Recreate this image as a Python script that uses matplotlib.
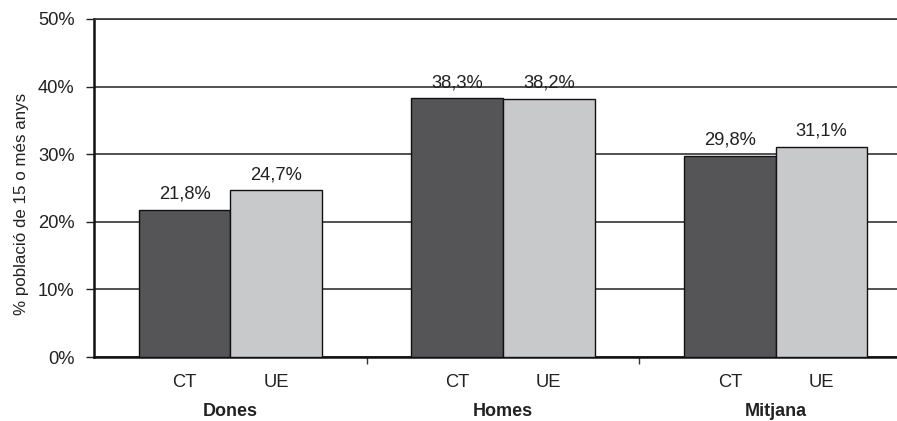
import matplotlib
matplotlib.use('Agg')
from matplotlib import pyplot as plt
import numpy as np

groups = ['Dones', 'Homes', 'Mitjana']
series = ['CT', 'UE']
ct = [21.8, 38.3, 29.8]
ue = [24.7, 38.2, 31.1]
yticks = [0, 10, 20, 30, 40, 50]

plt.rcParams['font.family'] = ['Liberation Sans', 'DejaVu Sans']

fig = plt.figure(figsize=(8.97, 4.21), dpi=100)
ax = fig.add_axes([94/897, 64/421, (912-94)/897, 338/421])

x = np.arange(len(groups))
w = 0.336
b1 = ax.bar(x - w/2, ct, w, color='#555558', edgecolor='#111111', linewidth=1, zorder=3)
b2 = ax.bar(x + w/2, ue, w, color='#c8c9cb', edgecolor='#111111', linewidth=1, zorder=3)

for bars in (b1, b2):
    for b in bars:
        h = b.get_height()
        ax.annotate(('%.1f%%' % h).replace('.', ','), (b.get_x() + b.get_width()/2, h),
                    xytext=(0, 5), textcoords='offset points', ha='center', va='bottom',
                    fontsize=13.2, color='#222222')

ax.set_xlim(-0.5, 2.5)
ax.set_ylim(0, 50)
ax.set_yticks(yticks)
ax.set_yticklabels(['%d%%' % v for v in yticks])
ax.yaxis.grid(True, color='#333333', linewidth=1.2, zorder=0)
ax.set_axisbelow(True)

pos = np.concatenate([x - w/2, x + w/2])
ax.set_xticks(pos)
ax.set_xticklabels([series[0]] * 3 + [series[1]] * 3)
ax.set_xticks([0.5, 1.5], minor=True)
ax.tick_params(axis='x', which='major', length=0, pad=12, labelsize=13.2, colors='#222222')
ax.tick_params(axis='x', which='minor', length=5, width=1, direction='out', color='#333333')
ax.tick_params(axis='y', length=6, width=1, direction='out', labelsize=13.2, colors='#222222', pad=8)

for i, g in enumerate(groups):
    ax.text(i, -0.16, g, transform=ax.get_xaxis_transform(), ha='center', va='center',
            fontsize=13, fontweight='bold', color='#222222')

ax.spines['right'].set_visible(False)
ax.spines['top'].set_color('#333333')
ax.spines['top'].set_linewidth(1.2)
ax.spines['left'].set_linewidth(1.8)
ax.spines['left'].set_color('#111111')
ax.spines['bottom'].set_linewidth(1.8)
ax.spines['bottom'].set_color('#111111')

ax.set_ylabel('% població de 15 o més anys', fontsize=12.2, color='#222222')
ax.yaxis.set_label_coords(-0.08, 0.453)

fig.savefig('out.png', dpi=100)
